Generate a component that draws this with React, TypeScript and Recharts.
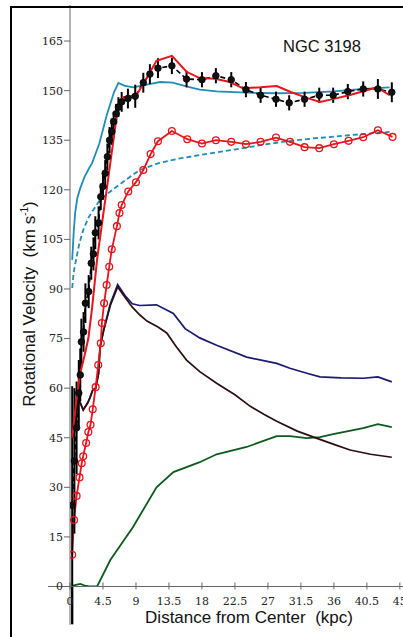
import React from 'react';
import { LineChart, Line, XAxis, YAxis, ErrorBar, ReferenceLine } from 'recharts';

// ---- data (x in kpc, v in km/s) ----
const xTicks = [0, 4.5, 9, 13.5, 18, 22.5, 27, 31.5, 36, 40.5, 45];
const yTicks = [0, 15, 30, 45, 60, 75, 90, 105, 120, 135, 150, 165];

const observed = [
  { x: 0.3, v: 24.6, err: 36 },
  { x: 0.6, v: 38, err: 22 },
  { x: 0.9, v: 48, err: 14 },
  { x: 1.2, v: 58.5, err: 10 },
  { x: 1.4, v: 64, err: 8 },
  { x: 1.55, v: 74, err: 7 },
  { x: 1.85, v: 77, err: 6 },
  { x: 2.1, v: 85.7, err: 6 },
  { x: 2.55, v: 89.2, err: 5 },
  { x: 2.9, v: 97.8, err: 5 },
  { x: 3.2, v: 100.6, err: 5 },
  { x: 3.45, v: 107, err: 5 },
  { x: 3.9, v: 110, err: 5 },
  { x: 4.2, v: 117.9, err: 4 },
  { x: 4.5, v: 121, err: 4 },
  { x: 4.8, v: 125, err: 4 },
  { x: 5.1, v: 130, err: 4 },
  { x: 5.4, v: 135, err: 4 },
  { x: 5.7, v: 137.6, err: 4 },
  { x: 5.95, v: 140.6, err: 3 },
  { x: 6.3, v: 143, err: 3 },
  { x: 6.6, v: 145, err: 3 },
  { x: 7.05, v: 146.6, err: 3 },
  { x: 7.9, v: 147.6, err: 3 },
  { x: 8.9, v: 148.3, err: 3.5 },
  { x: 10.0, v: 152.4, err: 3 },
  { x: 10.9, v: 155, err: 3 },
  { x: 12.0, v: 156.8, err: 3 },
  { x: 13.9, v: 157.5, err: 2.5 },
  { x: 15.9, v: 153.5, err: 2.5 },
  { x: 18.0, v: 153.3, err: 2.3 },
  { x: 19.9, v: 154.5, err: 2.3 },
  { x: 22.0, v: 153.3, err: 2.3 },
  { x: 24.0, v: 150.3, err: 2.3 },
  { x: 26.0, v: 148.6, err: 2.3 },
  { x: 28.1, v: 147.4, err: 2.3 },
  { x: 29.9, v: 146.3, err: 2.3 },
  { x: 32.0, v: 147.4, err: 2.3 },
  { x: 34.0, v: 148.6, err: 2.3 },
  { x: 35.9, v: 148.6, err: 2.3 },
  { x: 37.9, v: 149.7, err: 2.3 },
  { x: 40.0, v: 150.5, err: 2.3 },
  { x: 42.0, v: 150.5, err: 3 },
  { x: 43.9, v: 149.5, err: 3 },
];

const totalFit = [
  { x: 0.3, v: 45 }, { x: 0.8, v: 55 }, { x: 1.4, v: 64.6 }, { x: 2.0, v: 70 },
  { x: 2.5, v: 75 }, { x: 3.0, v: 84 }, { x: 3.7, v: 99 }, { x: 4.5, v: 112 },
  { x: 5.0, v: 120 }, { x: 5.8, v: 133 }, { x: 6.6, v: 146 }, { x: 7.3, v: 148 },
  { x: 9.1, v: 148.7 }, { x: 10.5, v: 154 }, { x: 11.8, v: 159 }, { x: 13.9, v: 160.5 },
  { x: 15.9, v: 155.7 }, { x: 17.7, v: 153.8 }, { x: 19.8, v: 153.6 }, { x: 21.8, v: 152.6 },
  { x: 23.6, v: 150.7 }, { x: 26.0, v: 151 }, { x: 28.2, v: 151.4 }, { x: 30.2, v: 149.5 },
  { x: 32.3, v: 147.8 }, { x: 34.1, v: 146.6 }, { x: 36.0, v: 147.5 }, { x: 38.2, v: 148.7 },
  { x: 40.0, v: 149.8 }, { x: 41.9, v: 151 }, { x: 43.6, v: 148.6 },
];

const circleModel = [
  { x: 0.3, v: 9.6 }, { x: 0.55, v: 20.1 }, { x: 0.9, v: 27.4 }, { x: 1.3, v: 33 },
  { x: 1.6, v: 37.3 }, { x: 1.8, v: 39.4 }, { x: 2.2, v: 43.4 }, { x: 2.5, v: 46.7 },
  { x: 2.8, v: 48.9 }, { x: 3.1, v: 53.6 }, { x: 3.5, v: 60.3 }, { x: 3.85, v: 67 },
  { x: 4.2, v: 73.6 }, { x: 4.35, v: 79.7 }, { x: 4.65, v: 85.7 }, { x: 5.0, v: 91.2 },
  { x: 5.35, v: 96.7 }, { x: 5.7, v: 102 }, { x: 6.4, v: 109 }, { x: 6.75, v: 113 },
  { x: 7.05, v: 115.4 }, { x: 7.95, v: 119.5 }, { x: 9.0, v: 122.3 }, { x: 10.0, v: 126 },
  { x: 11.0, v: 130.8 }, { x: 12.0, v: 134.7 }, { x: 13.9, v: 137.8 }, { x: 16.0, v: 135.3 },
  { x: 18.0, v: 134 }, { x: 19.9, v: 135 }, { x: 22.0, v: 134.5 }, { x: 24.0, v: 133.8 },
  { x: 26.0, v: 134.5 }, { x: 28.1, v: 135.8 }, { x: 30.0, v: 134.5 }, { x: 32.0, v: 132.9 },
  { x: 34.0, v: 132.6 }, { x: 36.0, v: 133.8 }, { x: 38.0, v: 134.8 }, { x: 40.0, v: 135.9 },
  { x: 42.0, v: 138 }, { x: 44.0, v: 136 },
];

const cyanSolid = [
  { x: 0.3, v: 98.8 }, { x: 0.5, v: 107 }, { x: 0.7, v: 113 }, { x: 1.0, v: 117.5 },
  { x: 1.4, v: 120.5 }, { x: 2.0, v: 124 }, { x: 2.6, v: 126.5 }, { x: 3.0, v: 128 },
  { x: 4.0, v: 134 }, { x: 5.0, v: 142.5 }, { x: 6.0, v: 149.5 }, { x: 6.6, v: 152.3 },
  { x: 7.4, v: 151.5 }, { x: 8.6, v: 151 }, { x: 10.5, v: 151.8 }, { x: 12.3, v: 152.6 },
  { x: 14.0, v: 152.4 }, { x: 16.0, v: 151.2 }, { x: 17.7, v: 150.3 }, { x: 20.0, v: 149.8 },
  { x: 24.0, v: 149.4 }, { x: 28.0, v: 149.2 }, { x: 32.0, v: 149.3 }, { x: 36.0, v: 149.8 },
  { x: 40.0, v: 150.5 }, { x: 43.6, v: 151 },
];

const cyanDashed = [
  { x: 0.3, v: 90.3 }, { x: 0.5, v: 95 }, { x: 0.9, v: 99.7 }, { x: 1.3, v: 104 },
  { x: 1.8, v: 107.8 }, { x: 2.5, v: 111.5 }, { x: 3.2, v: 114 }, { x: 4.1, v: 117 },
  { x: 5.5, v: 119.5 }, { x: 7.0, v: 122 }, { x: 9.5, v: 126 }, { x: 12.0, v: 128 },
  { x: 15.0, v: 129.5 }, { x: 17.7, v: 130.5 }, { x: 22.0, v: 132 }, { x: 26.0, v: 133.5 },
  { x: 29.0, v: 134.5 }, { x: 33.0, v: 135.5 }, { x: 38.0, v: 136.5 }, { x: 43.6, v: 137.5 },
];

const navyLine = [
  { x: 0.3, v: 45 }, { x: 0.7, v: 48.3 }, { x: 1.1, v: 57 }, { x: 1.5, v: 55 },
  { x: 1.8, v: 53.4 }, { x: 2.4, v: 55.5 }, { x: 2.7, v: 57 }, { x: 3.1, v: 59.4 },
  { x: 3.5, v: 60 }, { x: 3.9, v: 64.5 }, { x: 4.1, v: 72.4 }, { x: 4.6, v: 77.6 },
  { x: 5.5, v: 85.5 }, { x: 6.5, v: 91.3 }, { x: 7.5, v: 88 }, { x: 8.5, v: 85.5 },
  { x: 9.5, v: 85 }, { x: 11.8, v: 85.2 }, { x: 14.1, v: 82.6 }, { x: 15.7, v: 78 },
  { x: 17.7, v: 75.2 }, { x: 20.0, v: 73 }, { x: 24.1, v: 69.4 }, { x: 28.2, v: 67.5 },
  { x: 30.0, v: 66 }, { x: 32.3, v: 64.5 }, { x: 34.1, v: 63.4 }, { x: 37.0, v: 63.1 },
  { x: 40.0, v: 63 }, { x: 42.0, v: 63.4 }, { x: 43.9, v: 61.9 },
];

const brownLine = [
  { x: 0.3, v: 45 }, { x: 0.7, v: 48.3 }, { x: 1.1, v: 57 }, { x: 1.5, v: 55 },
  { x: 1.8, v: 53.4 }, { x: 2.4, v: 55.5 }, { x: 2.7, v: 57 }, { x: 3.1, v: 59.4 },
  { x: 3.5, v: 60 }, { x: 3.9, v: 64.5 }, { x: 4.1, v: 72.4 }, { x: 4.6, v: 77.6 },
  { x: 5.5, v: 85 }, { x: 6.5, v: 90.6 }, { x: 7.5, v: 87.5 }, { x: 8.5, v: 84.5 },
  { x: 9.5, v: 82.2 }, { x: 10.5, v: 80.3 }, { x: 12.0, v: 78.5 }, { x: 13.2, v: 76.7 },
  { x: 14.5, v: 72.5 }, { x: 15.9, v: 68.5 }, { x: 17.7, v: 65 }, { x: 20.0, v: 61.5 },
  { x: 22.5, v: 58 }, { x: 24.6, v: 54.5 }, { x: 26.5, v: 52 }, { x: 28.2, v: 50 },
  { x: 31.0, v: 47 }, { x: 33.7, v: 44.8 }, { x: 36.0, v: 43 }, { x: 38.2, v: 41.3 },
  { x: 41.0, v: 40 }, { x: 43.9, v: 39.1 },
];

const greenLine = [
  { x: 0.3, v: 0.2 }, { x: 0.8, v: 0.5 }, { x: 1.4, v: 0.8 }, { x: 2.0, v: 0.3 },
  { x: 2.6, v: 0 }, { x: 3.7, v: 0 }, { x: 5.5, v: 8 }, { x: 8.6, v: 18 },
  { x: 11.8, v: 30 }, { x: 14.1, v: 34.6 }, { x: 17.7, v: 37.6 }, { x: 20.0, v: 40 },
  { x: 24.1, v: 42.2 }, { x: 28.2, v: 45.5 }, { x: 30.0, v: 45.5 }, { x: 32.3, v: 44.9 },
  { x: 34.1, v: 45.2 }, { x: 35.9, v: 46.1 }, { x: 40.0, v: 47.9 }, { x: 42.0, v: 49.1 },
  { x: 43.9, v: 48.2 },
];

const X_MIN_EXT = -3;
const Y_MIN_EXT = -11.6;

const RED = '#e8141c';
const CYAN = '#1f8db5';
const AXIS = '#666';

const XTick = (props: any) => {
  const { x, y, payload } = props;
  return (
    <g>
      <line x1={x} x2={x} y1={y - 4} y2={y + 3} stroke={AXIS} strokeWidth={1} />
      <text x={x} y={y + 18} textAnchor="middle" fontFamily="DejaVu Serif" fontSize={11} fill="#222">
        {payload.value}
      </text>
    </g>
  );
};

export default function App() {
  return (
    <div style={{ position: 'absolute', left: 0, top: 0, width: 403, height: 637, overflow: 'hidden', background: '#fff' }}>
      <div style={{ position: 'absolute', left: 0, top: 0 }}>
        <LineChart width={420} height={637} margin={{ top: 5, right: 12.8, left: 40, bottom: 20.5 }}>
          <XAxis
            type="number"
            dataKey="x"
            domain={[0, 46]}
            ticks={xTicks}
            interval={0}
            allowDataOverflow
            height={30}
            tickSize={0}
            tickMargin={0}
            tickLine={false}
            axisLine={{ stroke: AXIS, strokeWidth: 1 }}
            tick={<XTick />}
          />
          <YAxis
            type="number"
            dataKey="v"
            domain={[0, 175.9]}
            ticks={yTicks}
            interval={0}
            allowDataOverflow
            width={30}
            tickSize={6}
            tickMargin={1}
            axisLine={{ stroke: AXIS, strokeWidth: 1 }}
            tickLine={{ stroke: AXIS, strokeWidth: 1 }}
            tick={{ fontFamily: 'DejaVu Serif', fontSize: 11, fill: '#222' }}
          />
          <ReferenceLine
            segment={[{ x: X_MIN_EXT, y: 0 }, { x: 0, y: 0 }]}
            stroke={AXIS}
            strokeWidth={1}
            ifOverflow="visible"
          />
          <ReferenceLine
            segment={[{ x: 0, y: Y_MIN_EXT }, { x: 0, y: 0 }]}
            stroke={AXIS}
            strokeWidth={1}
            ifOverflow="visible"
          />
          {observed
            .filter((d) => d.v - d.err < 0)
            .map((d) => (
              <ReferenceLine
                key={'ext' + d.x}
                segment={[{ x: d.x, y: Math.max(d.v - d.err, Y_MIN_EXT) }, { x: d.x, y: 0 }]}
                stroke="#000"
                strokeWidth={2}
                ifOverflow="visible"
              />
            ))}
          <Line data={greenLine} dataKey="v" type="linear" stroke="#0d5a1e" strokeWidth={1.8} dot={false} isAnimationActive={false} />
          <Line data={navyLine} dataKey="v" type="linear" stroke="#1a1a72" strokeWidth={1.7} dot={false} isAnimationActive={false} />
          <Line data={brownLine} dataKey="v" type="linear" stroke="#2e0f0f" strokeWidth={1.7} dot={false} isAnimationActive={false} />
          <Line data={cyanDashed} dataKey="v" type="linear" stroke={CYAN} strokeWidth={1.8} strokeDasharray="5 3" dot={false} isAnimationActive={false} />
          <Line data={cyanSolid} dataKey="v" type="linear" stroke={CYAN} strokeWidth={1.8} dot={false} isAnimationActive={false} />
          <Line
            data={circleModel}
            dataKey="v"
            type="linear"
            stroke={RED}
            strokeWidth={1.8}
            dot={{ r: 3.4, fill: 'none', stroke: RED, strokeWidth: 1.3 }}
            isAnimationActive={false}
          />
          <Line
            data={observed}
            dataKey="v"
            type="linear"
            stroke="#000"
            strokeWidth={1.6}
            strokeDasharray="5 3"
            dot={{ r: 3.3, fill: '#111', stroke: '#000', strokeWidth: 0.8, strokeDasharray: 'none' }}
            isAnimationActive={false}
          >
            <ErrorBar dataKey="err" width={0} stroke="#000" strokeWidth={2} direction="y" />
          </Line>
          <Line data={totalFit} dataKey="v" type="linear" stroke={RED} strokeWidth={2} dot={false} isAnimationActive={false} />
        </LineChart>
      </div>
      <div
        style={{
          position: 'absolute', left: 10, top: 6, width: 520, height: 720,
          borderLeft: '2.5px solid #000', borderTop: '2.5px solid #000', boxSizing: 'border-box',
          pointerEvents: 'none',
        }}
      />
      <div
        style={{
          position: 'absolute', left: 283, top: 38, fontFamily: 'Liberation Sans', fontSize: 16.5,
          lineHeight: '16px', whiteSpace: 'nowrap', color: '#111',
        }}
      >
        NGC 3198
      </div>
      <div
        style={{
          position: 'absolute', left: 249, top: 610, transform: 'translateX(-50%)', fontFamily: 'Liberation Sans',
          fontSize: 17, lineHeight: '16px', whiteSpace: 'nowrap', color: '#111',
        }}
      >
        Distance from Center&nbsp;&nbsp;(kpc)
      </div>
      <div
        style={{
          position: 'absolute', left: 30, top: 304, transform: 'translate(-50%, -50%) rotate(-90deg)',
          fontFamily: 'Liberation Sans', fontSize: 17, lineHeight: '16px', whiteSpace: 'nowrap', color: '#111',
        }}
      >
        Rotational Velocity&nbsp;&nbsp;(km s<sup style={{ fontSize: 10, lineHeight: 0 }}>-1</sup>)
      </div>
    </div>
  );
}
